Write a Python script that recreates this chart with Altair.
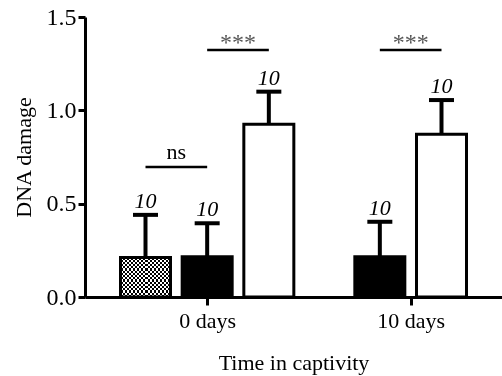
import altair as alt
import pandas as pd

# ---- data ----
groups = ["0 days", "0 days", "0 days", "10 days", "10 days"]
kinds = ["checkered", "black", "white", "black", "white"]
means = [0.212, 0.215, 0.925, 0.215, 0.872]
errors = [0.228, 0.180, 0.175, 0.188, 0.183]
n_labels = ["10", "10", "10", "10", "10"]

group_names = ["0 days", "10 days"]
group_centers = [0.0, 3.3]

sig_group = ["0 days", "0 days", "10 days"]
sig_from = ["checkered", "black", "black"]
sig_to = ["black", "white", "white"]
sig_level = [0.696, 1.323, 1.323]
sig_text = ["ns", "***", "***"]

FONT = "Liberation Serif"

# ---- build tables ----
rows = []
for g, c in zip(group_names, group_centers):
    idx = [i for i, gg in enumerate(groups) if gg == g]
    k = len(idx)
    for j, i in enumerate(idx):
        rows.append(dict(group=g, kind=kinds[i], mean=means[i],
                         top=means[i] + errors[i], n=n_labels[i],
                         pos=c + (j - (k - 1) / 2)))
df = pd.DataFrame(rows)

def pos_of(g, k):
    return float(df[(df.group == g) & (df.kind == k)].pos.iloc[0])

sig = pd.DataFrame(dict(
    x1=[pos_of(g, a) for g, a in zip(sig_group, sig_from)],
    x2=[pos_of(g, b) for g, b in zip(sig_group, sig_to)],
    level=sig_level, text=sig_text))
sig["mid"] = (sig.x1 + sig.x2) / 2

label_expr = " : ".join(
    [f"datum.value == {c} ? '{g}'" for g, c in zip(group_names, group_centers)] + ["''"])

xscale = alt.Scale(domain=[-1.9, 4.7], nice=False, zero=False)
yscale = alt.Scale(domain=[0, 1.5], nice=False)

xaxis = alt.Axis(values=group_centers, labelExpr=label_expr, grid=False,
                 domainWidth=3, domainColor="black", tickWidth=3, tickColor="black",
                 tickSize=8, labelFont=FONT, labelFontSize=22, labelColor="black",
                 labelBaseline="alphabetic", labelPadding=22,
                 titleFont=FONT, titleFontSize=22, titleFontWeight="normal",
                 titleColor="black", titleBaseline="alphabetic", titleY=72)
yaxis = alt.Axis(values=[0, 0.5, 1.0, 1.5], format=".1f", grid=False,
                 domainWidth=3, domainColor="black", tickWidth=3, tickColor="black",
                 tickSize=7, labelFont=FONT, labelFontSize=24, labelColor="black",
                 labelPadding=2, titleFont=FONT, titleFontSize=22,
                 titleFontWeight="normal", titleColor="black",
                 titleX=-62, titleY=140, titleAngle=-90, titleBaseline="middle",
                 titleAlign="center")

def X(field):
    return alt.X(field, type="quantitative", scale=xscale, axis=xaxis, title="Time in captivity")

def Y(field):
    return alt.Y(field, type="quantitative", scale=yscale, axis=yaxis, title="DNA damage")

base = alt.Chart(df)

err_rule = base.mark_rule(color="black", strokeWidth=4).encode(
    x=X("pos"), y=Y("mean"), y2="top")

solid = base.transform_filter(alt.datum.kind != "checkered").mark_bar(
    size=50, stroke="black", strokeWidth=3, opacity=1).encode(
    x=X("pos"), y=Y("mean"),
    fill=alt.Fill("kind:N", scale=alt.Scale(domain=["black", "white"], range=["black", "white"]),
                  legend=None))

NX, NY = 12, 9
stops_a = []
for i in range(2 * NX):
    col = "black" if i % 2 == 0 else "white"
    stops_a.append(alt.GradientStop(offset=i / (2 * NX), color=col))
    stops_a.append(alt.GradientStop(offset=(i + 1) / (2 * NX), color=col))
stops_b = []
for i in range(2 * NY):
    col = "white" if i % 2 == 0 else "rgba(255,255,255,0)"
    stops_b.append(alt.GradientStop(offset=i / (2 * NY), color=col))
    stops_b.append(alt.GradientStop(offset=(i + 1) / (2 * NY), color=col))

grad_a = alt.LinearGradient(gradient="linear", stops=stops_a, x1=0, x2=1, y1=0, y2=0)
grad_b = alt.LinearGradient(gradient="linear", stops=stops_b, x1=0, x2=0, y1=0, y2=1)

chk = base.transform_filter(alt.datum.kind == "checkered")
chk_a = chk.mark_bar(size=50, color=grad_a, strokeWidth=0).encode(x=X("pos"), y=Y("mean"))
chk_b = chk.mark_bar(size=50, color=grad_b, strokeWidth=0, blend="difference").encode(
    x=X("pos"), y=Y("mean"))
chk_o = chk.mark_bar(size=50, fill="white", fillOpacity=0, stroke="black",
                     strokeWidth=3).encode(x=X("pos"), y=Y("mean"))

caps = base.mark_tick(orient="horizontal", size=25, thickness=4, color="black",
                      opacity=1).encode(x=X("pos"), y=Y("top"))

nlab = base.mark_text(font=FONT, fontStyle="italic", fontSize=22, baseline="alphabetic",
                      dy=-7, color="black").encode(x=X("pos"), y=Y("top"), text="n:N")

sbase = alt.Chart(sig)
srule = sbase.mark_rule(color="black", strokeWidth=2.5).encode(
    x=X("x1"), x2="x2", y=Y("level"))
stext_ns = sbase.transform_filter(alt.datum.text == "ns").mark_text(
    font=FONT, fontSize=22, baseline="alphabetic", dy=-8, color="black").encode(
    x=X("mid"), y=Y("level"), text="text:N")
stext_st = sbase.transform_filter(alt.datum.text != "ns").mark_text(
    font=FONT, fontSize=24, baseline="alphabetic", dy=0, color="#555555").encode(
    x=X("mid"), y=Y("level"), text="text:N")

chart = alt.layer(err_rule, solid, chk_a, chk_b, chk_o, caps, nlab, srule,
                  stext_ns, stext_st).properties(
    width=417, height=280,
    padding={"left": 85, "top": 17, "right": 0, "bottom": 79},
    autosize=alt.AutoSizeParams(type="none"),
).configure(background="white").configure_view(stroke=None)

chart.save("out.html", embed_options={"renderer": "svg", "actions": False})
